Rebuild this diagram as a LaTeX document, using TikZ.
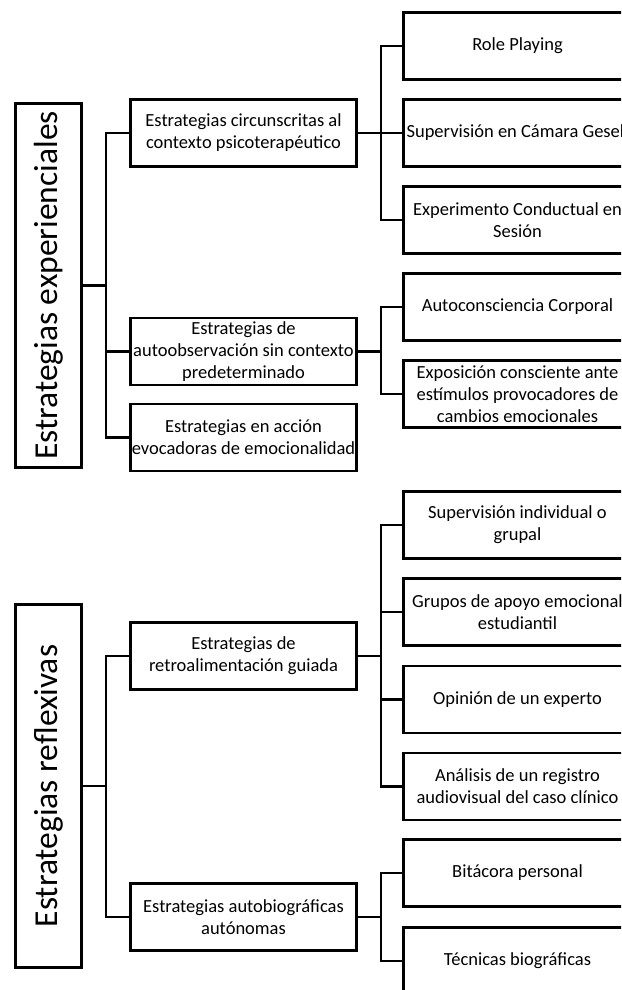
\documentclass[tikz,border=0pt]{standalone}
\usepackage{fontspec}
\setmainfont{Carlito}
\begin{document}
\begin{tikzpicture}[x=1pt,y=-1pt,
  box/.style={draw, line width=2.6pt, inner sep=0pt, align=center, font=\fontsize{18.5}{22}\selectfont},
  lvtwo/.style={box, minimum width=226pt, minimum height=67pt},
  lvthree/.style={box, minimum width=228pt, minimum height=67pt},
  bigbox/.style={draw, line width=2.6pt, inner sep=0pt, rotate=90, minimum height=66pt, font=\fontsize{33.5}{40}\selectfont},
  conn/.style={line width=2.6pt}]
\useasboundingbox (0,0) rectangle (621,990);
\clip (0,0) rectangle (621,990);

% top level
\node[bigbox, minimum width=364pt] (big1) at (48.5,285.5) {Estrategias experienciales};
\node[bigbox, minimum width=363pt] (big2) at (48.5,786) {Estrategias reflexivas};

% level two
\node[lvtwo] (l2a) at (243.5,133) {Estrategias circunscritas al\\contexto psicoterapéutico};
\node[lvtwo] (l2b) at (243.5,351.5) {Estrategias de\\autoobservación sin contexto\\predeterminado};
\node[lvtwo] (l2c) at (243.5,437.5) {Estrategias en acción\\evocadoras de emocionalidad};
\node[lvtwo] (l2d) at (243.5,656) {Estrategias de\\retroalimentación guiada};
\node[lvtwo] (l2e) at (243.5,917) {Estrategias autobiográficas\\autónomas};

% level three
\node[lvthree] (r1) at (517.5,46) {Role Playing};
\node[lvthree] (r2) at (517.5,133) {Supervisión en Cámara Gesell};
\node[lvthree] (r3) at (517.5,220) {Experimento Conductual en\\Sesión};
\node[lvthree] (r4) at (517.5,307) {Autoconsciencia Corporal};
\node[lvthree] (r5) at (517.5,394) {Exposición consciente ante\\estímulos provocadores de\\cambios emocionales};
\node[lvthree] (s1) at (517.5,525) {Supervisión individual o\\grupal};
\node[lvthree] (s2) at (517.5,612) {Grupos de apoyo emocional\\estudiantil};
\node[lvthree] (s3) at (517.5,699.5) {Opinión de un experto};
\node[lvthree] (s4) at (517.5,786.5) {Análisis de un registro\\audiovisual del caso clínico};
\node[lvthree] (s5) at (517.5,873) {Bitácora personal};
\node[lvthree] (s6) at (517.5,961) {Técnicas biográficas};

\coordinate (T) at (106,0);
\coordinate (B) at (381,0);

% trunk connectors
\draw[conn] (big1.south) -- (big1.south -| T);
\draw[conn] (l2a.west) -- (l2a.west -| T) -- (l2c.west -| T) -- (l2c.west);
\draw[conn] (l2b.west) -- (l2b.west -| T);

\draw[conn] (big2.south) -- (big2.south -| T);
\draw[conn] (l2d.west) -- (l2d.west -| T) -- (l2e.west -| T) -- (l2e.west);

% branch connectors
\draw[conn] (l2a.east) -- (l2a.east -| B);
\draw[conn] (r1.west) -- (r1.west -| B) -- (r3.west -| B) -- (r3.west);
\draw[conn] (r2.west) -- (r2.west -| B);

\draw[conn] (l2b.east) -- (l2b.east -| B);
\draw[conn] (r4.west) -- (r4.west -| B) -- (r5.west -| B) -- (r5.west);

\draw[conn] (l2d.east) -- (l2d.east -| B);
\draw[conn] (s1.west) -- (s1.west -| B) -- (s4.west -| B) -- (s4.west);
\draw[conn] (s2.west) -- (s2.west -| B);
\draw[conn] (s3.west) -- (s3.west -| B);

\draw[conn] (l2e.east) -- (l2e.east -| B);
\draw[conn] (s5.west) -- (s5.west -| B) -- (s6.west -| B) -- (s6.west);
\end{tikzpicture}
\end{document}
